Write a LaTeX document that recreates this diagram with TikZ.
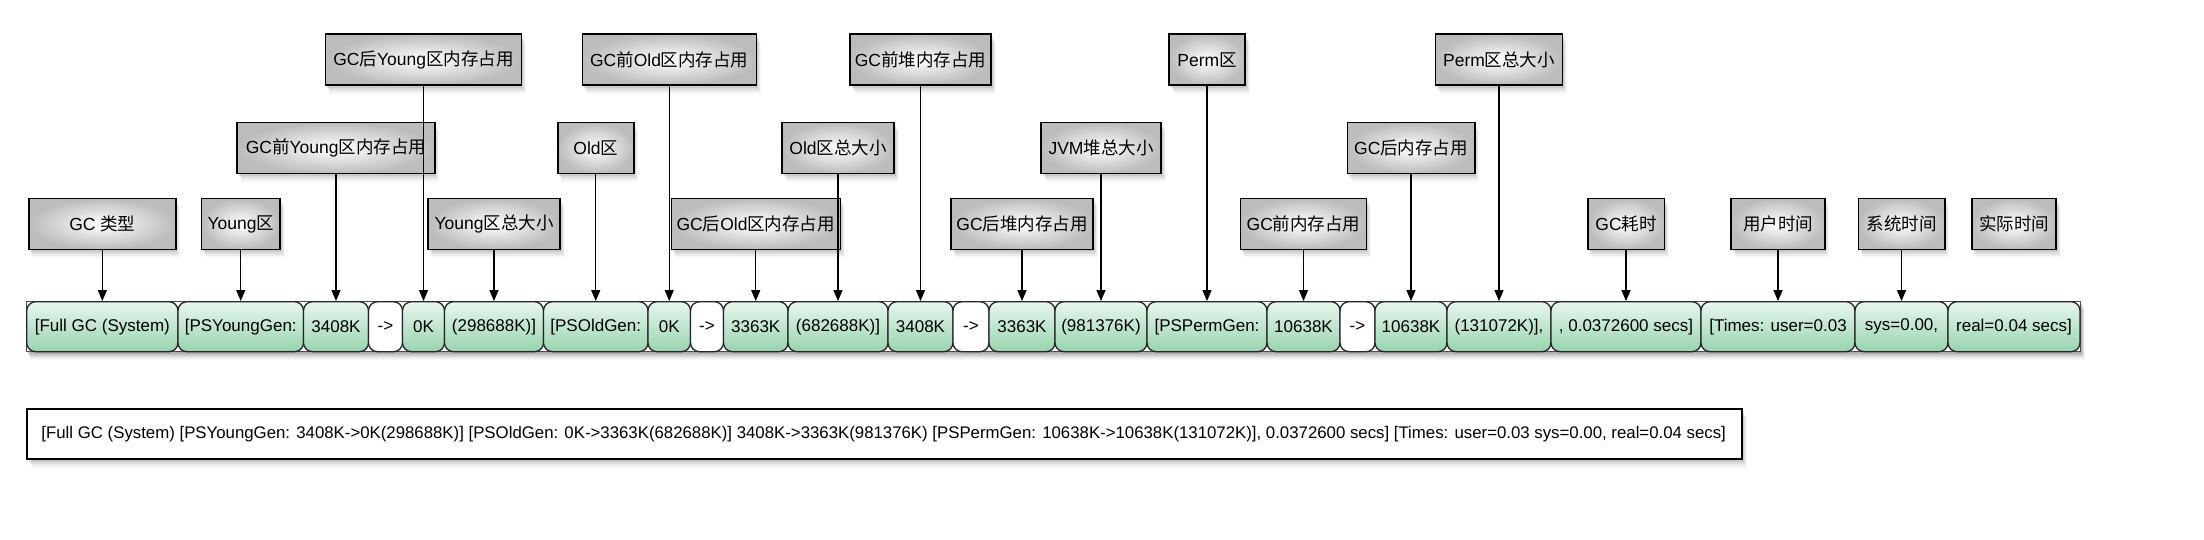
\documentclass[tikz,border=0pt]{standalone}
\usepackage{fontspec}
\setmainfont{Liberation Sans}
\newfontfamily\cjk{Noto Sans CJK SC}
\newcommand\zhs[1]{{\cjk #1}}
\usetikzlibrary{arrows.meta,shadows}
\definecolor{cellTop}{HTML}{E8F7EE}
\definecolor{cellBot}{HTML}{98D3B1}
\definecolor{lblEdge}{HTML}{BCBCBC}
\tikzset{
  softshadow/.style={
    drop shadow={shadow xshift=1.5pt, shadow yshift=-2.5pt, opacity=0.18},
    drop shadow={shadow xshift=2.5pt, shadow yshift=-4.5pt, opacity=0.14},
    drop shadow={shadow xshift=3.5pt, shadow yshift=-6.5pt, opacity=0.10},
    drop shadow={shadow xshift=4.5pt, shadow yshift=-8.5pt, opacity=0.06}},
  lbl/.style={draw=black, line width=1.5pt, shade, inner color=white, outer color=lblEdge,
    minimum height=51pt, inner sep=3pt, font=\fontsize{17.5}{19}\selectfont, softshadow},
  cellg/.style={draw=black!85, line width=1.3pt, rounded corners=9pt, top color=cellTop,
    bottom color=cellBot, minimum height=50pt, inner sep=0pt, font=\fontsize{17}{19}\selectfont},
  cellw/.style={cellg, top color=white, bottom color=white},
  conn/.style={line width=1.3pt, -{Triangle[length=11pt,width=9pt]}},
  logtxt/.style={font=\fontsize{16.8}{18}\selectfont, inner sep=0pt},
}
\begin{document}
\begin{tikzpicture}[x=1pt,y=1pt]
\useasboundingbox (0,0) rectangle (2204,-540);
\fill[white] (0,0) rectangle (2204,-540);
\coordinate (r1) at (0,-59.7);
\coordinate (r2) at (0,-148.2);
\coordinate (r3) at (0,-224);
% bar background
\node[draw=black!70, line width=0.8pt, fill=white, minimum width=2053.3pt, minimum height=50pt, inner sep=0pt,
  drop shadow={shadow xshift=1.5pt, shadow yshift=-2.5pt, opacity=0.35},
  drop shadow={shadow xshift=2.5pt, shadow yshift=-4.5pt, opacity=0.25},
  drop shadow={shadow xshift=3.5pt, shadow yshift=-6.5pt, opacity=0.15},
  drop shadow={shadow xshift=4.5pt, shadow yshift=-8.5pt, opacity=0.08}] (bar) at (1053.35,-326.7) {};
% cells
\node[cellg, minimum width=151.3pt] (c1) at (102.35,-326.7) {[Full GC (System)};
\node[cellg, minimum width=125.5pt] (c2) at (240.75,-326.7) {[PSYoungGen:};
\node[cellg, minimum width=65pt] (c3) at (336,-326.7) {3408K};
\node[cellw, minimum width=34pt] (c4) at (385.5,-326.7) {->};
\node[cellg, minimum width=42pt] (c5) at (423.5,-326.7) {0K};
\node[cellg, minimum width=99pt] (c6) at (494,-326.7) {(298688K)]};
\node[cellg, minimum width=104.5pt] (c7) at (595.75,-326.7) {[PSOldGen:};
\node[cellg, minimum width=42.5pt] (c8) at (669.25,-326.7) {0K};
\node[cellw, minimum width=33pt] (c9) at (707,-326.7) {->};
\node[cellg, minimum width=64.5pt] (c10) at (755.75,-326.7) {3363K};
\node[cellg, minimum width=100pt] (c11) at (838,-326.7) {(682688K)]};
\node[cellg, minimum width=65pt] (c12) at (920.5,-326.7) {3408K};
\node[cellw, minimum width=36pt] (c13) at (971,-326.7) {->};
\node[cellg, minimum width=66pt] (c14) at (1022,-326.7) {3363K};
\node[cellg, minimum width=92pt] (c15) at (1101,-326.7) {(981376K)};
\node[cellg, minimum width=120pt] (c16) at (1207,-326.7) {[PSPermGen:};
\node[cellg, minimum width=73pt] (c17) at (1303.5,-326.7) {10638K};
\node[cellw, minimum width=35pt] (c18) at (1357.5,-326.7) {->};
\node[cellg, minimum width=72pt] (c19) at (1411,-326.7) {10638K};
\node[cellg, minimum width=104pt] (c20) at (1499,-326.7) {(131072K)],};
\node[cellg, minimum width=150pt] (c21) at (1626,-326.7) {, 0.0372600 secs]};
\node[cellg, minimum width=154pt] (c22) at (1778,-326.7) {[Times: user=0.03};
\node[cellg, minimum width=93pt] (c23) at (1901.5,-326.7) {sys=0.00,};
\node[cellg, minimum width=132pt] (c24) at (2014,-326.7) {real=0.04 secs]};
% label boxes
\node[lbl, minimum width=196pt] (lA) at (c5 |- r1) {GC\zhs{后}Young\zhs{区内存占用}};
\node[lbl, minimum width=174pt] (lB) at (c8 |- r1) {GC\zhs{前}Old\zhs{区内存占用}};
\node[lbl, minimum width=141pt] (lC) at (c12 |- r1) {GC\zhs{前堆内存占用}};
\node[lbl, minimum width=76pt] (lD) at (c16 |- r1) {Perm\zhs{区}};
\node[lbl, minimum width=127pt] (lE) at (c20 |- r1) {Perm\zhs{区总大小}};
\node[lbl, minimum width=197.6pt] (lF) at (c3 |- r2) {GC\zhs{前}Young\zhs{区内存占用}};
\node[lbl, minimum width=76pt] (lG) at (c7 |- r2) {Old\zhs{区}};
\node[lbl, minimum width=112pt] (lH) at (c11 |- r2) {Old\zhs{区总大小}};
\node[lbl, minimum width=120pt] (lI) at (c15 |- r2) {JVM\zhs{堆总大小}};
\node[lbl, minimum width=127.5pt] (lJ) at (c19 |- r2) {GC\zhs{后内存占用}};
\node[lbl, minimum width=147pt] (lK) at (c1 |- r3) {GC \zhs{类型}};
\node[lbl, minimum width=78.5pt] (lL) at (c2 |- r3) {Young\zhs{区}};
\node[lbl, minimum width=132pt] (lM) at (c6 |- r3) {Young\zhs{区总大小}};
\node[lbl, minimum width=169pt] (lN) at (c10 |- r3) {GC\zhs{后}Old\zhs{区内存占用}};
\node[lbl, minimum width=142pt] (lO) at (c14 |- r3) {GC\zhs{后堆内存占用}};
\node[lbl, minimum width=125.6pt] (lP) at (c17 |- r3) {GC\zhs{前内存占用}};
\node[lbl, minimum width=76.5pt] (lQ) at (c21 |- r3) {GC\zhs{耗时}};
\node[lbl, minimum width=93.6pt] (lR) at (c22 |- r3) {\zhs{用户时间}};
\node[lbl, minimum width=86.5pt] (lS) at (c23 |- r3) {\zhs{系统时间}};
\node[lbl, minimum width=84.4pt] (lT) at (c24 |- r3) {\zhs{实际时间}};
% connectors
\draw[conn] (lA.south) -- (lA.south |- c5.north);
\draw[conn] (lB.south) -- (lB.south |- c8.north);
\draw[conn] (lC.south) -- (lC.south |- c12.north);
\draw[conn] (lD.south) -- (lD.south |- c16.north);
\draw[conn] (lE.south) -- (lE.south |- c20.north);
\draw[conn] (lF.south) -- (lF.south |- c3.north);
\draw[conn] (lG.south) -- (lG.south |- c7.north);
\draw[conn] (lH.south) -- (lH.south |- c11.north);
\draw[conn] (lI.south) -- (lI.south |- c15.north);
\draw[conn] (lJ.south) -- (lJ.south |- c19.north);
\draw[conn] (lK.south) -- (lK.south |- c1.north);
\draw[conn] (lL.south) -- (lL.south |- c2.north);
\draw[conn] (lM.south) -- (lM.south |- c6.north);
\draw[conn] (lN.south) -- (lN.south |- c10.north);
\draw[conn] (lO.south) -- (lO.south |- c14.north);
\draw[conn] (lP.south) -- (lP.south |- c17.north);
\draw[conn] (lQ.south) -- (lQ.south |- c21.north);
\draw[conn] (lR.south) -- (lR.south |- c22.north);
\draw[conn] (lS.south) -- (lS.south |- c23.north);
% full log line
\node[draw=black, line width=1.5pt, fill=white, minimum width=1715pt, minimum height=50pt, inner sep=0pt,
  softshadow] (logbox) at (884.5,-434) {};
\node[logtxt, anchor=west] (logtext) at ([xshift=15pt]logbox.west) {[Full GC (System) [PSYoungGen: 3408K->0K(298688K)] [PSOldGen: 0K->3363K(682688K)] 3408K->3363K(981376K) [PSPermGen: 10638K->10638K(131072K)], 0.0372600 secs] [Times: user=0.03 sys=0.00, real=0.04 secs]};
\end{tikzpicture}
\end{document}
